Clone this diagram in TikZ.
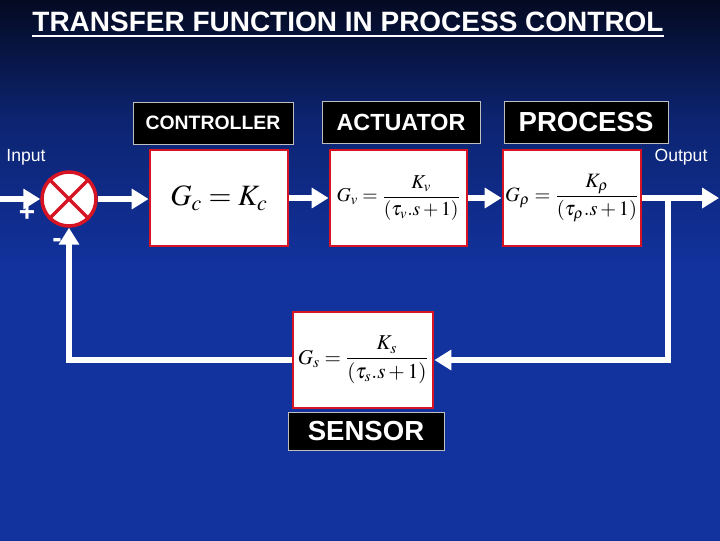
\documentclass[tikz,border=0pt]{standalone}
\usepackage{mathptmx}
\usepackage{fontspec}
\setmainfont{Liberation Sans}
\usetikzlibrary{positioning, arrows.meta, calc}
\definecolor{bgtop}{RGB}{4,10,34}
\definecolor{bgmid}{RGB}{12,36,112}
\definecolor{bgblue}{RGB}{18,50,158}
\definecolor{boxred}{RGB}{214,20,36}
\pgfdeclareverticalshading{slidebg}{100bp}{color(0bp)=(bgblue); color(50bp)=(bgblue); color(64bp)=(bgmid); color(75bp)=(bgtop); color(100bp)=(bgtop)}

\begin{document}
\begin{tikzpicture}[x=0.025cm, y=-0.025cm,
	tfbox/.style={draw=boxred, line width=2pt, fill=white, minimum width=3.45cm, minimum height=2.4cm, inner sep=0pt},
	tag/.style={draw=white!75!black, line width=0.6pt, fill=black, text=white, minimum height=1.05cm, inner sep=0pt},
	flow/.style={draw=white, line width=3.6pt, -{Triangle[length=12pt, width=14pt]}},
	wire/.style={draw=white, line width=3.6pt}]
	\shade[shading=slidebg] (0,0) rectangle (720,540);
	\useasboundingbox (0,0) rectangle (720,540);
	\node[white, font=\fontsize{19.9}{24}\selectfont\bfseries] (title) at (348,25) {\underline{TRANSFER FUNCTION IN PROCESS CONTROL}};
	% forward path
	\node[circle, draw=boxred, line width=2.5pt, fill=white, minimum size=1.35cm, inner sep=0pt] (sum) at (69,199) {};
	\draw[boxred, line width=2.5pt] (sum.north west) -- (sum.south east) (sum.north east) -- (sum.south west);
	\node[tfbox] (ctrl) at (219,198) {\fontsize{21}{25}\selectfont $G_c = K_c$};
	\node[tfbox, minimum width=3.425cm] (act) at (398.5,198) {\fontsize{14}{16}\selectfont $\displaystyle G_v = \frac{K_v}{(\tau_v.s+1)}$};
	\node[tfbox] (proc) at (572,198) {\fontsize{14.5}{17}\selectfont $\displaystyle G_\rho = \frac{K_\rho}{(\tau_\rho.s+1)}$};
	\node[tfbox, minimum width=3.5cm] (sens) at (363,360) {\fontsize{15}{17}\selectfont $\displaystyle G_s = \frac{K_s}{(\tau_s.s+1)}$};
	% block titles
	\node[tag, minimum width=4cm, font=\fontsize{13.8}{16}\selectfont\bfseries] (ctrltag) at (213,123) {CONTROLLER};
	\node[tag, minimum width=3.95cm, font=\fontsize{16.6}{19}\selectfont\bfseries] (acttag) at (401,122.5) {ACTUATOR};
	\node[tag, minimum width=4.1cm, font=\fontsize{19.6}{22}\selectfont\bfseries] (proctag) at (586,122.5) {PROCESS};
	\node[tag, minimum width=3.9cm, minimum height=0.95cm, font=\fontsize{19.6}{22}\selectfont\bfseries] (senstag) at (366,431) {SENSOR};
	\node[white, font=\fontsize{12.5}{15}\selectfont] (inlbl) at (26,157) {Input};
	\node[white, font=\fontsize{12.5}{15}\selectfont] (outlbl) at (681,157) {Output};
	\node[white, font=\fontsize{20}{20}\selectfont\bfseries] (plus) at (27,213) {+};
	\node[white, font=\fontsize{20}{20}\selectfont\bfseries] (minus) at (57,243) {-};
	% connectors
	\coordinate (in) at (0,199);
	\coordinate (out) at (719,198);
	\coordinate (tap) at (668,198);
	\draw[flow] (in) -- (sum.west);
	\draw[flow] (sum.east) -- (sum.east -| ctrl.west);
	\draw[flow] (ctrl.east) -- (act.west);
	\draw[flow] (act.east) -- (proc.west);
	\draw[flow] (proc.east) -- (out);
	\draw[flow] (tap) |- (sens.east);
	\draw[flow] (sens.west) -| (sum.south);
\end{tikzpicture}
\end{document}
